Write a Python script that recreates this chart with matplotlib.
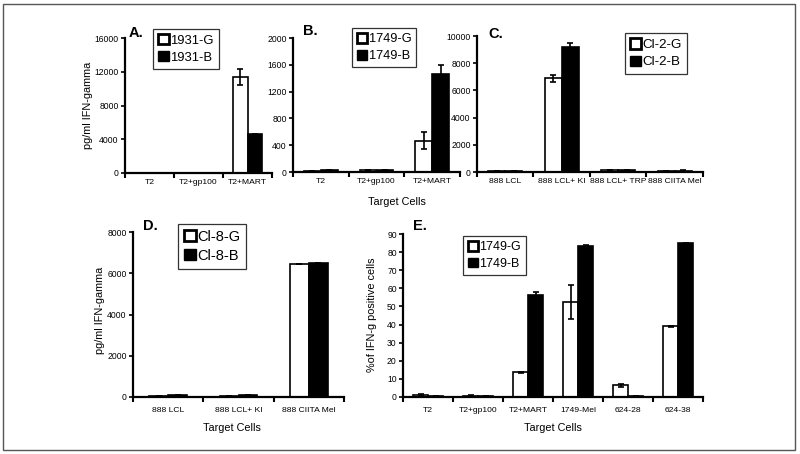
import matplotlib
matplotlib.use("Agg")
import matplotlib.pyplot as plt
from matplotlib.patches import Patch, Rectangle
import numpy as np

plt.rcParams['font.family'] = ['Liberation Sans', 'DejaVu Sans']

#%% Data

cats_a = ["T2", "T2+gp100", "T2+MART"]
a_g = [0, 0, 11400]
a_g_err = [0, 0, 950]
a_b = [0, 0, 4600]
a_b_err = [0, 0, 80]

cats_b = ["T2", "T2+gp100", "T2+MART"]
b_g = [20, 30, 470]
b_g_err = [0, 0, 120]
b_b = [35, 30, 1460]
b_b_err = [0, 0, 135]

cats_c = ["888 LCL", "888 LCL+ KI", "888 LCL+ TRP", "888 CIITA Mel"]
c_g = [60, 6900, 150, 80]
c_g_err = [0, 250, 0, 0]
c_b = [60, 9200, 130, 110]
c_b_err = [0, 280, 30, 30]

cats_d = ["888 LCL", "888 LCL+ KI", "888 CIITA Mel"]
d_g = [50, 50, 6430]
d_g_err = [0, 0, 0]
d_b = [100, 100, 6500]
d_b_err = [0, 20, 0]

cats_e = ["T2", "T2+gp100", "T2+MART", "1749-Mel", "624-28", "624-38"]
e_g = [1.0, 0.8, 13.6, 52.5, 6.5, 39.0]
e_g_err = [0.4, 0.2, 0.4, 9.3, 0.9, 0.3]
e_b = [0.3, 0.4, 56.5, 83.2, 0.8, 84.9]
e_b_err = [0, 0, 1.5, 0.6, 0, 0.3]

#%% Helpers

W, H = 800, 454
fig = plt.figure(figsize=(W / 100, H / 100), dpi=100)


def px_axes(x0, y0, x1, y1):
    # coordonnées pixel (haut gauche) -> fraction de figure
    return fig.add_axes([x0 / W, (H - y1) / H, (x1 - x0) / W, (y1 - y0) / H])


def panel(ax, cats, g, g_err, b, b_err, ymax, step, labels, width=0.3, pad=4.5):
    x = np.arange(len(cats)) + 0.5
    ax.bar(x - width / 2, g, width, color='white', edgecolor='black', linewidth=1.2,
           yerr=g_err, error_kw=dict(ecolor='black', capsize=2.5, elinewidth=1.2, capthick=1.2))
    ax.bar(x + width / 2, b, width, color='black', edgecolor='black', linewidth=1.2,
           yerr=b_err, error_kw=dict(ecolor='black', capsize=2.5, elinewidth=1.2, capthick=1.2))
    ax.set_xlim(0, len(cats))
    ax.set_ylim(0, ymax)
    ax.set_yticks(np.arange(0, ymax + 1, step))
    ax.set_xticks(np.arange(len(cats) + 1))
    ax.set_xticklabels([])
    ax.set_xticks(x, minor=True)
    ax.set_xticklabels(cats, minor=True, fontsize=6.1)
    ax.tick_params(axis='x', which='minor', length=0, pad=pad)
    ax.tick_params(axis='x', which='major', length=3.5, width=1.5, direction='out')
    ax.tick_params(axis='y', length=3, width=1.2, labelsize=6.2, pad=1.5)
    for s in ['top', 'right']:
        ax.spines[s].set_visible(False)
    for s in ['left', 'bottom']:
        ax.spines[s].set_linewidth(1.6)
    handles = [Patch(facecolor='white', edgecolor='black', linewidth=2.0, label=labels[0]),
               Patch(facecolor='black', edgecolor='black', label=labels[1])]
    return handles


def add_legend(ax, handles, x0, y0, fs=9.0):
    leg = ax.legend(handles=handles, loc='upper left', fontsize=fs,
                    bbox_to_anchor=(x0 / W, 1 - y0 / H), bbox_transform=fig.transFigure,
                    frameon=True, fancybox=False, borderaxespad=0, borderpad=0.4,
                    handlelength=0.8, handleheight=0.8, handletextpad=0.1,
                    labelspacing=0.35)
    leg.get_frame().set_edgecolor('black')
    leg.get_frame().set_linewidth(0.9)
    return leg


#%% Panels

ax_a = px_axes(125, 38, 272, 173)
h = panel(ax_a, cats_a, a_g, a_g_err, a_b, a_b_err, 16000, 4000, ["1931-G", "1931-B"])
add_legend(ax_a, h, 153, 29, fs=9.4)

ax_b = px_axes(293, 38, 460, 172)
h = panel(ax_b, cats_b, b_g, b_g_err, b_b, b_b_err, 2000, 400, ["1749-G", "1749-B"])
add_legend(ax_b, h, 352, 28, fs=9.2)

ax_c = px_axes(477, 36, 703, 172)
h = panel(ax_c, cats_c, c_g, c_g_err, c_b, c_b_err, 10000, 2000, ["Cl-2-G", "Cl-2-B"])
add_legend(ax_c, h, 625, 33, fs=9.6)

ax_d = px_axes(133, 232, 344, 397)
h = panel(ax_d, cats_d, d_g, d_g_err, d_b, d_b_err, 8000, 2000, ["Cl-8-G", "Cl-8-B"],
          width=0.27, pad=7)
add_legend(ax_d, h, 178, 224, fs=10.5)

ax_e = px_axes(403, 234, 703, 397)
h = panel(ax_e, cats_e, e_g, e_g_err, e_b, e_b_err, 90, 10, ["1749-G", "1749-B"], pad=7)
add_legend(ax_e, h, 463, 236, fs=9.0)

#%% Textes

fig.text(129 / W, 1 - 33 / H, "A.", fontsize=10.5, fontweight='bold', va='center', ha='left')
fig.text(303 / W, 1 - 31 / H, "B.", fontsize=10.5, fontweight='bold', va='center', ha='left')
fig.text(488 / W, 1 - 34 / H, "C.", fontsize=10.5, fontweight='bold', va='center', ha='left')
fig.text(143 / W, 1 - 226 / H, "D.", fontsize=10.5, fontweight='bold', va='center', ha='left')
fig.text(413 / W, 1 - 226 / H, "E.", fontsize=10.5, fontweight='bold', va='center', ha='left')

fig.text(88 / W, 1 - 105 / H, "pg/ml IFN-gamma", fontsize=7.8, rotation=90, va='center', ha='center')
fig.text(100 / W, 1 - 310 / H, "pg/ml IFN-gamma", fontsize=7.8, rotation=90, va='center', ha='center')
fig.text(372 / W, 1 - 315 / H, "%of IFN-g positive cells", fontsize=7.8, rotation=90, va='center', ha='center')

fig.text(397 / W, 1 - 202 / H, "Target Cells", fontsize=7.8, va='center', ha='center')
fig.text(232 / W, 1 - 428 / H, "Target Cells", fontsize=7.8, va='center', ha='center')
fig.text(553 / W, 1 - 428 / H, "Target Cells", fontsize=7.8, va='center', ha='center')

# cadre autour de la figure
fig.patches.append(Rectangle((3 / W, 4 / H), 792 / W, 446 / H, transform=fig.transFigure,
                             fill=False, edgecolor='#555555', linewidth=1.0))

fig.savefig("out.png", dpi=100)
